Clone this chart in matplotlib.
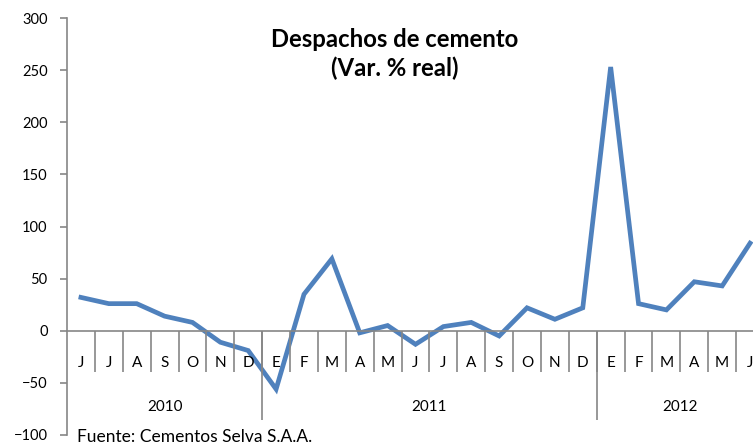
import numpy as np
import matplotlib
matplotlib.use('Agg')
import matplotlib.pyplot as plt

# Data
months_2010 = ['J', 'J', 'A', 'S', 'O', 'N', 'D']
months_2011 = ['E', 'F', 'M', 'A', 'M', 'J', 'J', 'A', 'S', 'O', 'N', 'D']
months_2012 = ['E', 'F', 'M', 'A', 'M', 'J']
years = ['2010', '2011', '2012']

values_2010 = [32, 26, 26, 14, 8, -11, -19]
values_2011 = [-56, 35, 69, -2, 5, -13, 4, 8, -5, 22, 11, 22]
values_2012 = [253, 26, 20, 47, 43, 84]

months = months_2010 + months_2011 + months_2012
values = values_2010 + values_2011 + values_2012
year_sizes = [len(months_2010), len(months_2011), len(months_2012)]

plt.rcParams['font.family'] = ['Lato', 'DejaVu Sans']

fig = plt.figure(figsize=(7.53, 4.47), dpi=100)
# plot area runs slightly past the right edge like the original
ax = fig.add_axes([67 / 753, 12 / 447, 697 / 753, 417 / 447])

x = np.arange(len(values))
ax.plot(x, values, color='#4F81BD', linewidth=3.4, solid_joinstyle='miter', clip_on=False)

ax.set_xlim(-0.5, len(values) - 0.5)
ax.set_ylim(-100, 300)
ax.set_yticks(np.arange(-100, 301, 50))

axis_col = '#868686'
for side in ['top', 'right', 'bottom']:
    ax.spines[side].set_visible(False)
ax.spines['left'].set_color(axis_col)
ax.spines['left'].set_linewidth(1.2)
ax.tick_params(axis='y', colors=axis_col, length=5, width=1.2, pad=9, labelsize=10.5, labelcolor='black')
ax.set_xticks([])

# category axis at zero
ax.axhline(0, color=axis_col, linewidth=1.2, clip_on=False)

# month separators and labels
ax.vlines(np.arange(1, len(values)) - 0.5, -40, 0, color=axis_col, linewidth=1.2, clip_on=False)
for i, m in enumerate(months):
    ax.text(i, -31, m, ha='center', va='center', fontsize=11, color='black', clip_on=False)

# year separators and labels
start = 0
for k, (yr, n) in enumerate(zip(years, year_sizes)):
    if k > 0:
        ax.vlines(start - 0.5, -86, 0, color=axis_col, linewidth=1.2, clip_on=False)
    ax.text(start + (n - 1) / 2, -73, yr, ha='center', va='center', fontsize=11, color='black')
    start += n

fig.text(395 / 753, 1 - 54 / 447, 'Despachos de cemento\n(Var. % real)', ha='center', va='center',
         fontsize=17.2, fontweight='bold', linespacing=1.3)
fig.text(77 / 753, 1 - 437 / 447, 'Fuente: Cementos Selva S.A.A.', ha='left', va='center', fontsize=12.5)

fig.savefig('out.png', dpi=100)
